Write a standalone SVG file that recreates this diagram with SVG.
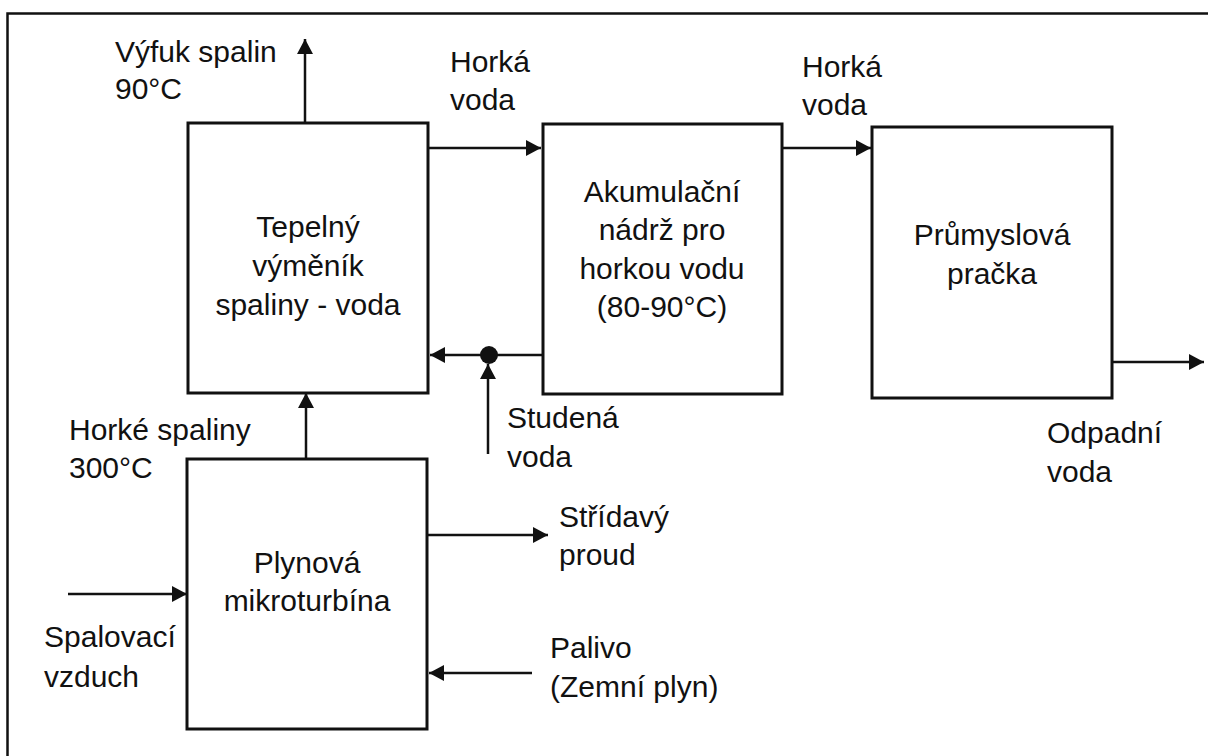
<svg xmlns="http://www.w3.org/2000/svg" width="1208" height="756" viewBox="0 0 1208 756">
<defs>
<style>
.box{fill:#fff;stroke:#111;stroke-width:3}
.frame{fill:none;stroke:#111;stroke-width:2.5}
.con{fill:none;stroke:#111;stroke-width:2.5}
text{font-family:"Liberation Sans",Arial,sans-serif;font-size:30px;fill:#111}
.c{text-anchor:middle}
</style>
<marker id="ah" markerUnits="userSpaceOnUse" markerWidth="18" markerHeight="18" viewBox="0 0 18 18" refX="16" refY="9" orient="auto">
<path d="M1,1 L16,9 L1,17 Z" fill="#111"/>
</marker>
</defs>
<rect width="1208" height="756" fill="#fff"/>
<rect class="frame" x="7.5" y="13.5" width="1230" height="770"/>

<g id="connectors">
<line class="con" x1="305" y1="123" x2="305" y2="39" marker-end="url(#ah)"/>
<line class="con" x1="429" y1="148" x2="541" y2="148" marker-end="url(#ah)"/>
<line class="con" x1="782" y1="148" x2="871" y2="148" marker-end="url(#ah)"/>
<line class="con" x1="543" y1="355" x2="430" y2="355" marker-end="url(#ah)"/>
<circle cx="489" cy="355" r="9" fill="#111"/>
<line class="con" x1="488" y1="454" x2="488" y2="364" marker-end="url(#ah)"/>
<line class="con" x1="1112" y1="362" x2="1204" y2="362" marker-end="url(#ah)"/>
<line class="con" x1="306" y1="459" x2="306" y2="393" marker-end="url(#ah)"/>
<line class="con" x1="427" y1="535" x2="548" y2="535" marker-end="url(#ah)"/>
<line class="con" x1="68" y1="594" x2="187" y2="594" marker-end="url(#ah)"/>
<line class="con" x1="532" y1="673" x2="429" y2="673" marker-end="url(#ah)"/>
</g>

<g id="node-vymenik">
<rect class="box" x="188" y="123" width="240" height="270"/>
<text class="c" x="308" y="237">Tepelný</text>
<text class="c" x="308" y="276">výměník</text>
<text class="c" x="308" y="315">spaliny - voda</text>
</g>

<g id="node-nadrz">
<rect class="box" x="543" y="124" width="239" height="270"/>
<text class="c" x="662" y="202">Akumulační</text>
<text class="c" x="662" y="240">nádrž pro</text>
<text class="c" x="662" y="279">horkou vodu</text>
<text class="c" x="662" y="317">(80-90°C)</text>
</g>

<g id="node-pracka">
<rect class="box" x="872" y="127" width="240" height="271"/>
<text class="c" x="992" y="245">Průmyslová</text>
<text class="c" x="992" y="284">pračka</text>
</g>

<g id="node-turbina">
<rect class="box" x="187" y="459" width="240" height="270"/>
<text class="c" x="307" y="573">Plynová</text>
<text class="c" x="307" y="611">mikroturbína</text>
</g>

<g id="labels">
<text x="115" y="62">Výfuk spalin</text>
<text x="115" y="99">90°C</text>
<text x="450" y="72">Horká</text>
<text x="450" y="110">voda</text>
<text x="802" y="77">Horká</text>
<text x="802" y="115">voda</text>
<text x="507" y="428">Studená</text>
<text x="507" y="467">voda</text>
<text x="1047" y="443">Odpadní</text>
<text x="1047" y="482">voda</text>
<text x="69" y="440">Horké spaliny</text>
<text x="69" y="478">300°C</text>
<text x="559" y="527">Střídavý</text>
<text x="559" y="565">proud</text>
<text x="44" y="647">Spalovací</text>
<text x="44" y="687">vzduch</text>
<text x="550" y="658">Palivo</text>
<text x="550" y="697">(Zemní plyn)</text>
</g>
</svg>
